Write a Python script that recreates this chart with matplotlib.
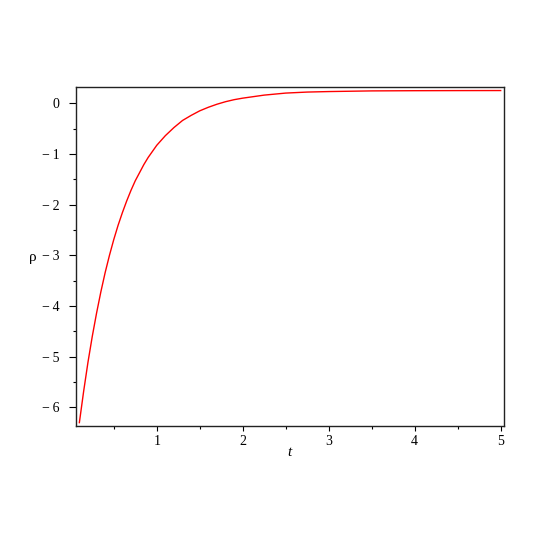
import numpy as np
import matplotlib
matplotlib.use("Agg")
import matplotlib.pyplot as plt
from matplotlib.ticker import MultipleLocator, FuncFormatter

# values
t_vals = [0.10, 0.15, 0.20, 0.25, 0.30, 0.35, 0.40, 0.45, 0.50, 0.55,
          0.60, 0.65, 0.70, 0.75, 0.80, 0.85, 0.90, 0.95, 1.00, 1.10,
          1.20, 1.30, 1.40, 1.50, 1.60, 1.70, 1.80, 1.90, 2.00, 2.25,
          2.50, 2.75, 3.00, 3.50, 4.00, 4.50, 5.00]
rho_vals = [-6.30, -5.68, -5.11, -4.60, -4.14, -3.72, -3.34, -3.00, -2.69, -2.41,
            -2.16, -1.93, -1.72, -1.53, -1.37, -1.21, -1.07, -0.95, -0.83, -0.64,
            -0.48, -0.34, -0.24, -0.15, -0.08, -0.02, 0.03, 0.07, 0.10, 0.16,
            0.20, 0.22, 0.23, 0.243, 0.247, 0.249, 0.25]

plt.rcParams['font.family'] = ['Liberation Serif', 'DejaVu Serif']

fig = plt.figure(figsize=(5.45, 5.45), dpi=100)
ax = fig.add_axes([0.139, 0.219, 0.786, 0.621])

ax.plot(t_vals, rho_vals, color='red', lw=1.0)

ax.set_xlim(0.058, 5.04)
ax.set_ylim(-6.36, 0.316)

ax.xaxis.set_major_locator(MultipleLocator(1))
ax.xaxis.set_minor_locator(MultipleLocator(0.5))
ax.yaxis.set_major_locator(MultipleLocator(1))
ax.yaxis.set_minor_locator(MultipleLocator(0.5))

fmt = FuncFormatter(lambda v, p: ("\u2212\u2009%d" % -round(v)) if v < -0.01 else "%d" % round(v))
ax.xaxis.set_major_formatter(fmt)
ax.yaxis.set_major_formatter(fmt)

ax.tick_params(which='both', direction='out', top=False, right=False,
               labelsize=10, width=0.8)
ax.tick_params(axis='y', which='major', length=5, pad=6.5)
ax.tick_params(axis='x', which='major', length=3.6, pad=3)
ax.tick_params(which='minor', length=2.3)

for s in ax.spines.values():
    s.set_linewidth(1.0)
    s.set_color('#222222')

fig.text(33 / 545, 1 - 257 / 545, "\u03c1", fontsize=11, ha='center', va='center')
fig.text(289 / 545, 1 - 453 / 545, "t", fontsize=11, style='italic', ha='center', va='center')

fig.savefig("out.png", dpi=100)
